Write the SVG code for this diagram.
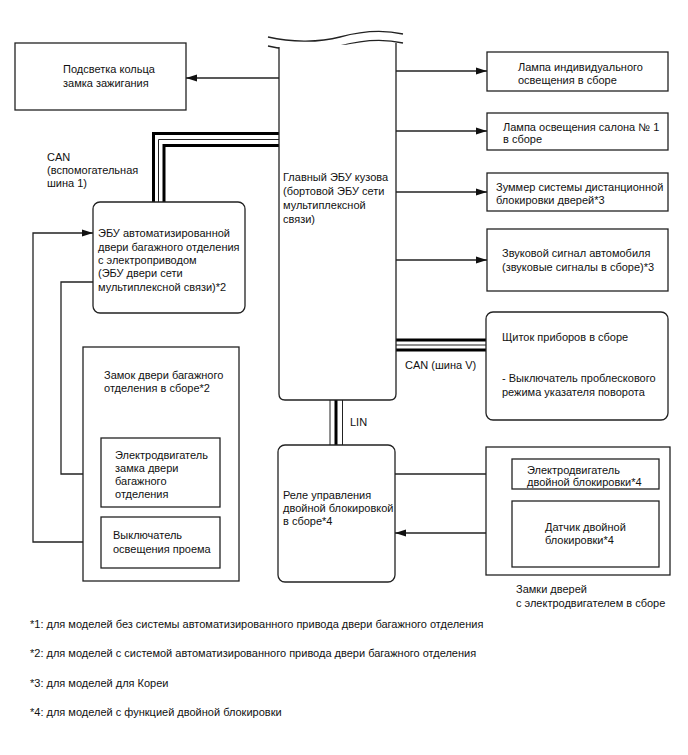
<svg xmlns="http://www.w3.org/2000/svg" width="688" height="755" viewBox="0 0 688 755">
<defs>
<marker id="arr" markerUnits="userSpaceOnUse" markerWidth="12" markerHeight="8" refX="11" refY="4" orient="auto">
<path d="M0,0.5 L11,4 L0,7.5 z" fill="#111"/>
</marker>
</defs>
<style>
text{font-family:"Liberation Sans",Arial,sans-serif;font-size:11px;fill:#111}
.box{fill:#fff;stroke:#222;stroke-width:1.3}
.ln{fill:none;stroke:#222;stroke-width:1.3}
.thick{fill:none;stroke:#000;stroke-width:3}
.thin{fill:none;stroke:#222;stroke-width:1}
</style>
<rect width="688" height="755" fill="#fff"/>

<g id="connectors">
<line class="ln" x1="279" y1="78" x2="186" y2="78" marker-end="url(#arr)"/>
<line class="ln" x1="396" y1="71" x2="487" y2="71" marker-end="url(#arr)"/>
<line class="ln" x1="396" y1="131" x2="487" y2="131" marker-end="url(#arr)"/>
<line class="ln" x1="396" y1="192" x2="487" y2="192" marker-end="url(#arr)"/>
<line class="ln" x1="396" y1="260" x2="487" y2="260" marker-end="url(#arr)"/>
<path class="thick" d="M279,133.5 H153.5 V202"/>
<path class="thin" d="M279,139.5 H158.5 V202"/>
<path class="thick" d="M279,145.5 H164 V202"/>
<line class="thick" x1="396" y1="340" x2="486" y2="340"/>
<line class="thin" x1="396" y1="345" x2="486" y2="345"/>
<line class="thick" x1="396" y1="350" x2="486" y2="350"/>
<line class="thin" x1="330" y1="400" x2="330" y2="445"/>
<line class="thick" x1="336" y1="400" x2="336" y2="445"/>
<line class="thin" x1="342.5" y1="400" x2="342.5" y2="445"/>
<path class="ln" d="M101,542 H33 V233 H93" marker-end="url(#arr)"/>
<path class="ln" d="M93,282 H61 V474 H101" marker-end="url(#arr)"/>
<line class="ln" x1="395" y1="474" x2="512" y2="474" marker-end="url(#arr)"/>
<line class="ln" x1="512" y1="533" x2="395" y2="533" marker-end="url(#arr)"/>
</g>

<g id="main-ecu">
<path class="ln" d="M268,37 C290,42 318,43 340,37 S385,30 403,34"/>
<path class="ln" d="M268,46 C290,51 318,52 340,46 S385,39 403,43"/>
<path class="box" d="M279,47 V394 Q279,400 285,400 H390 Q396,400 396,394 V43"/>
<text x="283" y="181">Главный ЭБУ кузова</text>
<text x="283" y="195">(бортовой ЭБУ сети</text>
<text x="283" y="209">мультиплексной</text>
<text x="283" y="223">связи)</text>
</g>

<g id="ignition-ring">
<rect class="box" x="15" y="43" width="171" height="67"/>
<text x="63" y="73">Подсветка кольца</text>
<text x="63" y="87">замка зажигания</text>
</g>

<g id="can-aux-label">
<text x="47" y="161">CAN</text>
<text x="47" y="174">(вспомогательная</text>
<text x="47" y="187">шина 1)</text>
</g>

<g id="door-ecu">
<rect class="box" x="93" y="202" width="152" height="111" rx="7"/>
<text x="98" y="237">ЭБУ автоматизированной</text>
<text x="98" y="250.5">двери багажного отделения</text>
<text x="98" y="264">с электроприводом</text>
<text x="98" y="277">(ЭБУ двери сети</text>
<text x="98" y="290.5">мультиплексной связи)*2</text>
</g>

<g id="trunk-lock">
<rect class="box" x="83" y="347" width="156" height="234"/>
<text x="104" y="379">Замок двери багажного</text>
<text x="104" y="392">отделения в сборе*2</text>
</g>

<g id="trunk-motor">
<rect class="box" x="101" y="438" width="119" height="69"/>
<text x="115" y="459">Электродвигатель</text>
<text x="115" y="472">замка двери</text>
<text x="115" y="485">багажного</text>
<text x="115" y="498">отделения</text>
</g>

<g id="courtesy-switch">
<rect class="box" x="101" y="517" width="119" height="51"/>
<text x="113" y="539">Выключатель</text>
<text x="113" y="553">освещения проема</text>
</g>

<g id="lamp-individual">
<rect class="box" x="487" y="52" width="181" height="39"/>
<text x="518" y="71">Лампа индивидуального</text>
<text x="518" y="84">освещения в сборе</text>
</g>

<g id="lamp-room">
<rect class="box" x="487" y="113" width="181" height="37"/>
<text x="503" y="131">Лампа освещения салона № 1</text>
<text x="503" y="143">в сборе</text>
</g>

<g id="buzzer">
<rect class="box" x="487" y="173" width="181" height="38"/>
<text x="496" y="191">Зуммер системы дистанционной</text>
<text x="496" y="204">блокировки дверей*3</text>
</g>

<g id="horn">
<rect class="box" x="487" y="229" width="181" height="62"/>
<text x="502" y="257">Звуковой сигнал автомобиля</text>
<text x="502" y="271">(звуковые сигналы в сборе)*3</text>
</g>

<g id="combination-meter">
<rect class="box" x="486" y="312" width="182" height="108" rx="7"/>
<text x="502" y="341">Щиток приборов в сборе</text>
<text x="502" y="382">- Выключатель проблескового</text>
<text x="502" y="396">режима указателя поворота</text>
</g>

<g id="bus-labels">
<text x="405" y="369">CAN (шина V)</text>
<text x="350" y="426">LIN</text>
</g>

<g id="double-lock-relay">
<rect class="box" x="278" y="445" width="117" height="137" rx="7"/>
<text x="283" y="499">Реле управления</text>
<text x="283" y="512">двойной блокировкой</text>
<text x="283" y="525">в сборе*4</text>
</g>

<g id="door-lock-assy">
<rect class="box" x="486" y="447" width="184" height="128"/>
<text x="516" y="593">Замки дверей</text>
<text x="516" y="607">с электродвигателем в сборе</text>
</g>

<g id="double-lock-motor">
<rect class="box" x="512" y="459" width="147" height="30"/>
<text x="527" y="474">Электродвигатель</text>
<text x="527" y="486">двойной блокировки*4</text>
</g>

<g id="double-lock-sensor">
<rect class="box" x="512" y="501" width="147" height="66"/>
<text x="545" y="531">Датчик двойной</text>
<text x="545" y="544">блокировки*4</text>
</g>

<g id="footnotes">
<text x="30" y="628">*1: для моделей без системы автоматизированного привода двери багажного отделения</text>
<text x="30" y="657">*2: для моделей с системой автоматизированного привода двери багажного отделения</text>
<text x="30" y="687">*3: для моделей для Кореи</text>
<text x="30" y="716">*4: для моделей с функцией двойной блокировки</text>
</g>
</svg>
